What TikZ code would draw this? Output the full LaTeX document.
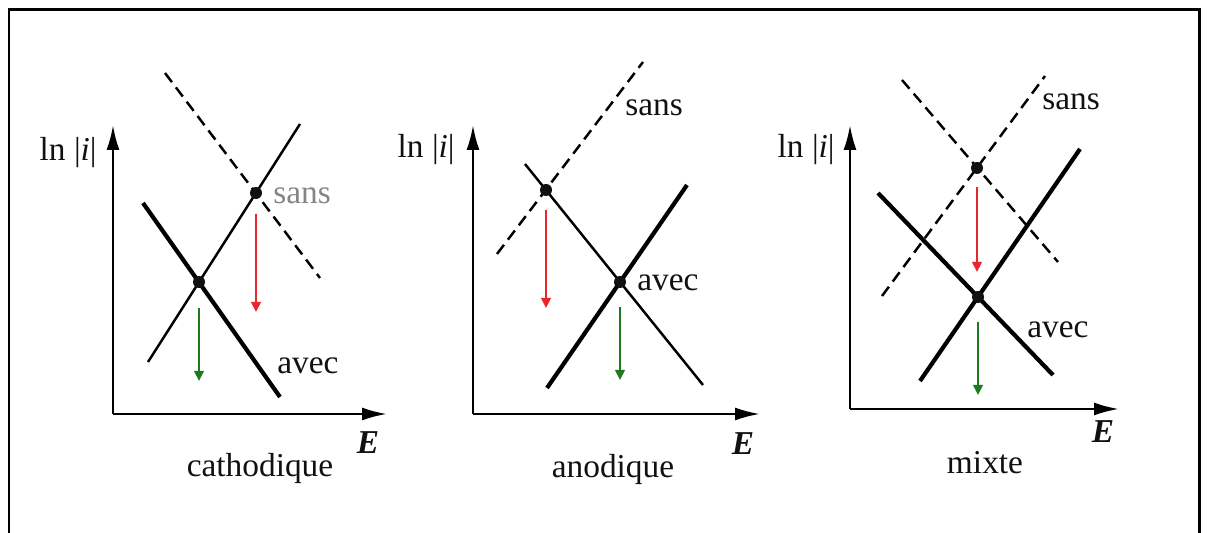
\documentclass[tikz,border=0pt]{standalone}
\usepackage{fontspec}
\setmainfont{Liberation Serif}
\usetikzlibrary{arrows.meta}
\definecolor{ink}{HTML}{111111}
\definecolor{sansred}{HTML}{E8262B}
\definecolor{avecgreen}{HTML}{1F7A1F}
\definecolor{fade}{HTML}{858585}
\tikzset{
  axis/.style={line width=1.4pt,-{Latex[length=0.5cm,width=0.26cm]}},
  thinline/.style={line width=1.4pt},
  thickline/.style={line width=2.4pt},
  sansline/.style={line width=1.4pt,dash pattern=on 0.23cm off 0.13cm},
  crossdot/.style={circle,fill=ink,inner sep=0pt,minimum size=0.24cm},
  drop/.style={line width=1.3pt,-{Triangle[length=0.2cm,width=0.19cm]}},
  lbl/.style={inner sep=0pt}
}

\begin{document}
\begin{tikzpicture}[x=0.02cm,y=0.02cm,font=\fontsize{19}{22}\selectfont,text=ink,>=Latex]
  \useasboundingbox (0,0) rectangle (1207,533);
  % Frame, bottom edge cut off
  \draw[line width=1.7pt] (9,0) -- (9,523) -- (1199,523) -- (1199,0);

  \begin{scope}[shift={(113,119)}]
    % Axes
    \coordinate (O1) at (0,0);
    \draw[axis] (O1) -- (0,289);
    \draw[axis] (O1) -- (274,0);
    \node[lbl,anchor=east] (lni1) at (-16,261) {ln |\textit{i}|};
    \node[lbl] (E1) at (255,-29) {\textbf{\textit{E}}};
    \node[lbl] (name1) at (147,-54) {cathodique};

    % Polarisation curves
    \draw[thinline] (35,52) -- (187,290);
    \draw[thickline] (30,211) -- (167,17);
    \draw[sansline] (52,341) -- (207,136);
    \node[crossdot] (sans1) at (143,221) {};
    \node[crossdot] (avec1) at (86,132) {};
    \node[lbl,anchor=west,text=fade] (sanslbl1) at (160,218) {sans};
    \node[lbl,anchor=west] (aveclbl1) at (164,48) {avec};

    % Drop of the corrosion current
    \draw[drop,sansred] (sans1) ++(0,-21) -- ++(0,-98);
    \draw[drop,avecgreen] (avec1) ++(0,-26) -- ++(0,-73);
  \end{scope}

  \begin{scope}[shift={(473,119)}]
    % Axes
    \coordinate (O2) at (0,0);
    \draw[axis] (O2) -- (0,289);
    \draw[axis] (O2) -- (287,0);
    \node[lbl,anchor=east] (lni2) at (-18,264) {ln |\textit{i}|};
    \node[lbl] (E2) at (270,-30) {\textbf{\textit{E}}};
    \node[lbl] (name2) at (140,-55) {anodique};

    % Polarisation curves
    \draw[sansline] (24,160) -- (170,352);
    \draw[thinline] (52,250) -- (230,29);
    \draw[thickline] (74,26) -- (214,229);
    \node[crossdot] (sans2) at (73,224) {};
    \node[crossdot] (avec2) at (147,132) {};
    \node[lbl,anchor=west] (sanslbl2) at (152,306) {sans};
    \node[lbl,anchor=west] (aveclbl2) at (164,131) {avec};

    % Drop of the corrosion current
    \draw[drop,sansred] (sans2) ++(0,-20) -- ++(0,-98);
    \draw[drop,avecgreen] (avec2) ++(0,-25) -- ++(0,-73);
  \end{scope}

  \begin{scope}[shift={(850,124)}]
    % Axes
    \coordinate (O3) at (0,0);
    \draw[axis] (O3) -- (0,284);
    \draw[axis] (O3) -- (269,0);
    \node[lbl,anchor=east] (lni3) at (-15,259) {ln |\textit{i}|};
    \node[lbl] (E3) at (253,-23) {\textbf{\textit{E}}};
    \node[lbl] (name3) at (135,-54) {mixte};

    % Polarisation curves
    \draw[sansline] (52,329) -- (208,147);
    \draw[sansline] (32,113) -- (195,333);
    \draw[thickline] (28,216) -- (203,34);
    \draw[thickline] (70,28) -- (230,260);
    \node[crossdot] (sans3) at (127,241) {};
    \node[crossdot] (avec3) at (128,112) {};
    \node[lbl,anchor=west] (sanslbl3) at (192,307) {sans};
    \node[lbl,anchor=west] (aveclbl3) at (177,79) {avec};

    % Drop of the corrosion current
    \draw[drop,sansred] (sans3) ++(0,-19) -- ++(0,-85);
    \draw[drop,avecgreen] (avec3) ++(0,-25) -- ++(0,-73);
  \end{scope}
\end{tikzpicture}
\end{document}
